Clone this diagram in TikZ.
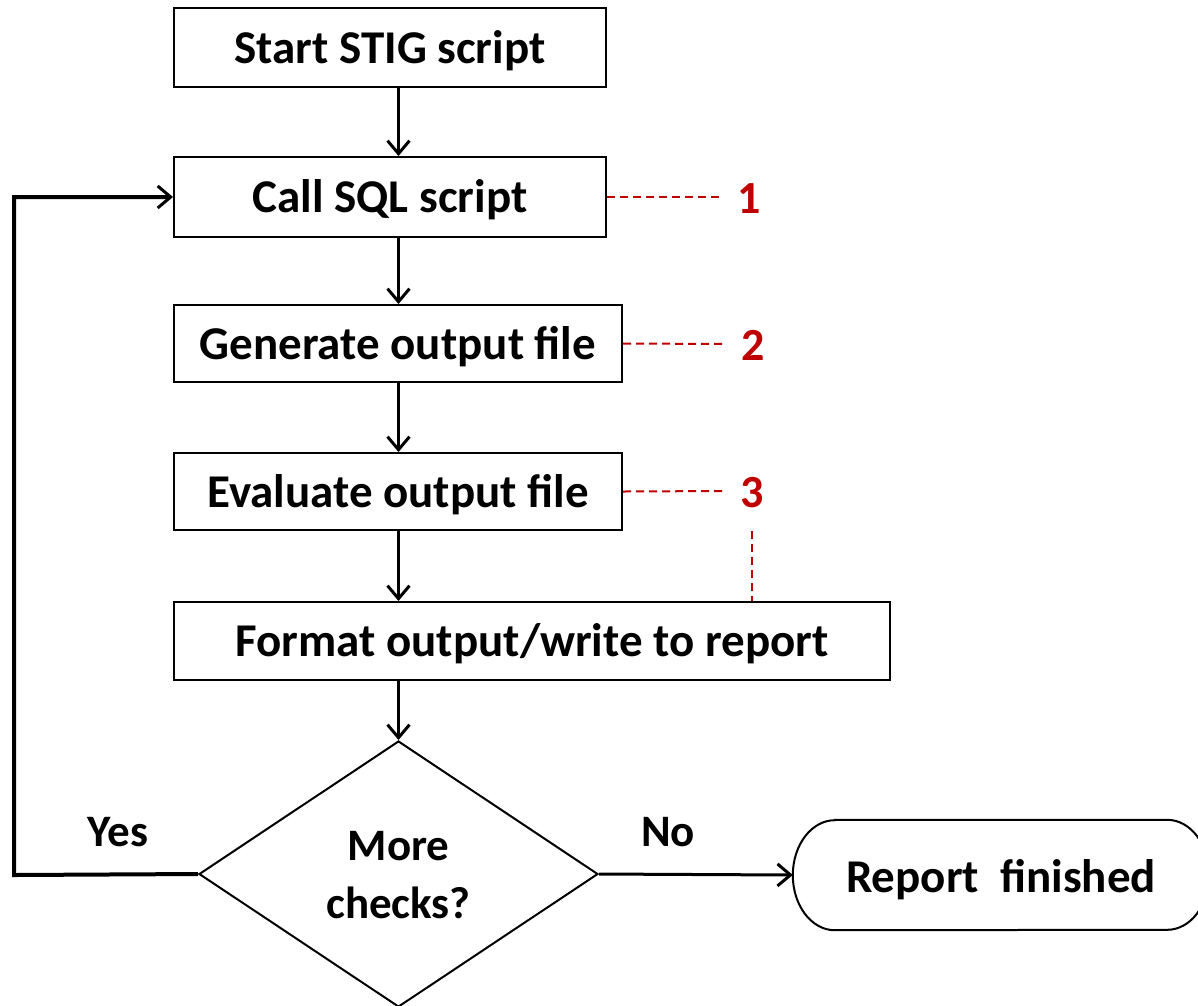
\documentclass[tikz,border=0pt]{standalone}
\usepackage{fontspec}
\setmainfont{Carlito}
\usetikzlibrary{arrows.meta,shapes.geometric}
\definecolor{numred}{HTML}{C00000}
\newcommand{\lowered}[2]{\raisebox{-#1pt}[\height][\depth]{#2}}
\tikzset{
  stepbox/.style={draw, line width=2pt, rectangle, inner sep=0pt, font=\fontsize{47}{56}\selectfont\bfseries},
  flow/.style={line width=3pt, -{Straight Barb[length=13pt,width=22pt,line width=3pt]}},
  leader/.style={draw=numred, line width=2pt, dash pattern=on 8pt off 5pt},
  numlabel/.style={text=numred, font=\fontsize{46}{54}\selectfont\bfseries, inner sep=0pt},
  lbl/.style={font=\fontsize{45}{54}\selectfont\bfseries, inner sep=0pt}
}
\begin{document}
\begin{tikzpicture}[x=1pt,y=-1pt]
\useasboundingbox (0,0) rectangle (1198,1005);
\begin{scope}
\clip (0,0) rectangle (1198,1005);
\node[stepbox, minimum width=432, minimum height=79] (start) at (390,47.5) {\lowered{3}{Start STIG script}};
\node[stepbox, minimum width=432, minimum height=80] (call) at (390,197) {\lowered{3}{Call SQL script}};
\node[stepbox, minimum width=448, minimum height=77] (gen) at (398,343.5) {\lowered{3}{Generate output file}};
\node[stepbox, minimum width=448, minimum height=77] (eval) at (398,491.5) {\lowered{3}{Evaluate output file}};
\node[stepbox, minimum width=716, minimum height=78] (fmt) at (532,641) {\lowered{3}{Format output/write to report}};
\node[draw, line width=2pt, diamond, aspect=1.5, minimum width=399, minimum height=266, inner sep=0pt,
      align=center, font=\fontsize{45}{57}\selectfont\bfseries] (dec) at (398.5,874) {\lowered{4}{\begin{tabular}{@{}c@{}}More\\[1pt]checks?\end{tabular}}};
\node[minimum width=416, minimum height=110, inner sep=0pt, font=\fontsize{47}{56}\selectfont\bfseries] (fin) at (1001,875) {\lowered{5}{Report\ \ finished}};
\draw[line width=2pt] ([xshift=42pt]fin.north west) -- ([xshift=-42pt]fin.north east)
  arc[start angle=90,end angle=-90,x radius=42pt,y radius=55pt]
  -- ([xshift=42pt]fin.south west)
  arc[start angle=270,end angle=90,x radius=42pt,y radius=55pt] -- cycle;

\coordinate (s1) at (start.south -| dec.north);
\coordinate (c1) at (call.north -| dec.north);
\coordinate (c2) at (call.south -| dec.north);
\draw[flow] (s1) -- (c1);
\draw[flow] (c2) -- (gen.north -| dec.north);
\draw[flow] (gen.south -| dec.north) -- (eval.north -| dec.north);
\draw[flow] (eval.south -| dec.north) -- (fmt.north -| dec.north);
\draw[flow] (fmt.south -| dec.north) -- (dec.north);
\draw[flow] (dec.east) -- (fin.west);
\coordinate (lp) at (14,875);
\draw[flow, line width=4pt] (dec.west) -- (lp) |- (call.west);

\node[lbl] (yes) at (118,832) {Yes};
\node[lbl] (no) at (668,832) {No};

\node[numlabel] (n1) at (749,199) {1};
\node[numlabel] (n2) at (753,345) {2};
\node[numlabel] (n3) at (752,493) {3};
\draw[leader] (call.east) -- (723,197);
\draw[leader] (gen.east) -- (725,344);
\draw[leader] (eval.east) -- (725,491);
\coordinate (v3) at (752,531);
\draw[leader] (v3) -- (v3 |- fmt.north);
\end{scope}
\end{tikzpicture}
\end{document}
